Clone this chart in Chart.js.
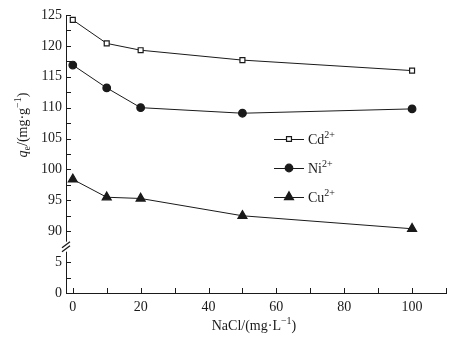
<!DOCTYPE html>
<html>
<head>
<meta charset="utf-8">
<script src="https://cdn.jsdelivr.net/npm/chart.js@4/dist/chart.umd.min.js"></script>
<style>
html,body{margin:0;padding:0;background:#fff;}
#wrap{width:463px;height:339px;}
</style>
</head>
<body>
<div id="wrap"><canvas id="c" width="463" height="339"></canvas></div>
<script>
// ---- data ----
const nacl = [0, 10, 20, 50, 100];
const cd = [124.2, 120.4, 119.3, 117.7, 116.0];
const ni = [116.9, 113.2, 110.0, 109.1, 109.8];
const cu = [98.4, 95.5, 95.3, 92.5, 90.4];
const seriesLabels = ['Cd', 'Ni', 'Cu'];
const seriesCharge = '2+';
const yMajorTicks = [0, 5, 90, 95, 100, 105, 110, 115, 120, 125];
const xTickLabels = [0, 20, 40, 60, 80, 100];

// broken axis: 0..5 stays, 90..125 shifted down by 80
const BREAK_LOW = 5, BREAK_HIGH = 90, SHIFT = BREAK_HIGH - BREAK_LOW - 5;
function tf(v){ return v <= BREAK_LOW ? v : v - SHIFT; }
function inv(t){ return t <= BREAK_LOW ? t : t + SHIFT; }

const FONT = '"Liberation Serif", "Times New Roman", serif';
const INK = '#1a1a1a';

function pts(arr){ return nacl.map((x,i)=>({x:x, y:tf(arr[i])})); }

function richText(ctx, parts, x, y, align){
  const base = 14, small = 10;
  const fontOf = p => (p.k==='i' ? 'italic ' : '') + ((p.k==='sup'||p.k==='sub') ? small : base) + 'px ' + FONT;
  let total = 0;
  parts.forEach(p=>{ ctx.font = fontOf(p); total += ctx.measureText(p.t).width; });
  let cx = align==='center' ? x - total/2 : x;
  ctx.textBaseline = 'alphabetic';
  ctx.textAlign = 'left';
  parts.forEach(p=>{
    ctx.font = fontOf(p);
    let dy = 0;
    if (p.k==='sup') dy = -6;
    if (p.k==='sub') dy = 3;
    ctx.fillText(p.t, cx, y + dy);
    cx += ctx.measureText(p.t).width;
  });
}

const decor = {
  id: 'decor',
  afterDraw(chart){
    const ctx = chart.ctx;
    const xs = chart.scales.x, ys = chart.scales.y;
    const area = chart.chartArea;
    ctx.save();
    ctx.strokeStyle = INK;
    ctx.lineWidth = 1;
    // inward ticks on y
    ys.ticks.forEach(t=>{
      if (Math.abs(t.value - 7.5) < 1e-6) return;
      const y = Math.round(ys.getPixelForValue(t.value)) + 0.5;
      ctx.beginPath(); ctx.moveTo(area.left, y); ctx.lineTo(area.left + 5, y); ctx.stroke();
    });
    // inward ticks on x
    xs.ticks.forEach(t=>{
      if (t.value < 0) return;
      const x = Math.round(xs.getPixelForValue(t.value)) + 0.5;
      ctx.beginPath(); ctx.moveTo(x, area.bottom); ctx.lineTo(x, area.bottom - 5); ctx.stroke();
    });
    // axis break
    const yb = ys.getPixelForValue(7.5);
    ctx.fillStyle = '#fff';
    ctx.fillRect(area.left - 3, yb - 5, 6, 10);
    ctx.lineWidth = 1.3;
    ctx.beginPath();
    ctx.moveTo(area.left - 4, yb + 1); ctx.lineTo(area.left + 4, yb - 5);
    ctx.moveTo(area.left - 4, yb + 5); ctx.lineTo(area.left + 4, yb - 1);
    ctx.stroke();

    // legend
    const legY = [139, 168, 197];
    chart.data.datasets.forEach((ds, i)=>{
      const y = legY[i];
      ctx.strokeStyle = INK; ctx.lineWidth = 1;
      ctx.beginPath(); ctx.moveTo(274, y + 0.5); ctx.lineTo(304, y + 0.5); ctx.stroke();
      ctx.fillStyle = ds.pointBackgroundColor; ctx.strokeStyle = INK; ctx.lineWidth = ds.pointBorderWidth;
      Chart.helpers.drawPoint(ctx, {pointStyle: ds.pointStyle, radius: ds.pointRadius, borderWidth: ds.pointBorderWidth, rotation: 0}, 289, y);
      ctx.fillStyle = INK;
      richText(ctx, [{t: ds.label, k:'n'}, {t: seriesCharge, k:'sup'}], 308, y + 5, 'left');
    });

    // x title
    ctx.fillStyle = INK;
    richText(ctx, [{t:'NaCl/(mg·L', k:'n'}, {t:'−1', k:'sup'}, {t:')', k:'n'}], 254, 330, 'center');

    // y title
    ctx.save();
    ctx.translate(27, 125);
    ctx.rotate(-Math.PI/2);
    richText(ctx, [{t:'q', k:'i'}, {t:'e', k:'sub'}, {t:'/(mg·g', k:'n'}, {t:'−1', k:'sup'}, {t:')', k:'n'}], 0, 0, 'center');
    ctx.restore();

    ctx.restore();
  }
};

function ds(label, arr, style, radius, fill){
  return {
    label: label,
    data: pts(arr),
    borderColor: INK,
    borderWidth: 1,
    pointStyle: style,
    pointRadius: radius,
    pointHoverRadius: radius,
    pointBackgroundColor: fill,
    pointBorderColor: INK,
    pointBorderWidth: 1.2,
    tension: 0,
    fill: false
  };
}

new Chart(document.getElementById('c'), {
  type: 'line',
  data: {
    datasets: [
      ds(seriesLabels[0], cd, 'rect', 3.5, '#ffffff'),
      ds(seriesLabels[1], ni, 'circle', 3.8, INK),
      ds(seriesLabels[2], cu, 'triangle', 5.2, INK)
    ]
  },
  options: {
    responsive: false,
    devicePixelRatio: 1,
    animation: false,
    layout: { padding: { top: 15, right: 17, left: 0, bottom: 0 } },
    plugins: { legend: { display: false }, tooltip: { enabled: false } },
    scales: {
      x: {
        type: 'linear',
        min: -2, max: 110,
        grid: { display: false, drawTicks: false },
        border: { display: true, color: INK, width: 1 },
        afterBuildTicks: s => {
          const t = [];
          for (let v = 0; v <= 110; v += 10) t.push({value: v});
          s.ticks = t;
        },
        ticks: {
          padding: 6,
          color: INK,
          font: { family: FONT, size: 14 },
          maxRotation: 0,
          autoSkip: false,
          callback: v => xTickLabels.includes(v) ? String(v) : ''
        },
        afterFit: s => { s.height = 46; }
      },
      y: {
        type: 'linear',
        min: 0, max: tf(125),
        grid: { display: false, drawTicks: false },
        border: { display: true, color: INK, width: 1 },
        afterBuildTicks: s => {
          const t = [];
          for (let v = 0; v <= tf(125) + 1e-9; v += 2.5) t.push({value: v});
          s.ticks = t;
        },
        ticks: {
          padding: 4,
          color: INK,
          font: { family: FONT, size: 14 },
          autoSkip: false,
          callback: v => {
            if (Math.abs(v - 7.5) < 1e-6) return '';
            const r = inv(v);
            return yMajorTicks.includes(r) ? String(r) : '';
          }
        },
        afterFit: s => { s.width = 66; }
      }
    }
  },
  plugins: [decor]
});
</script>
</body>
</html>
